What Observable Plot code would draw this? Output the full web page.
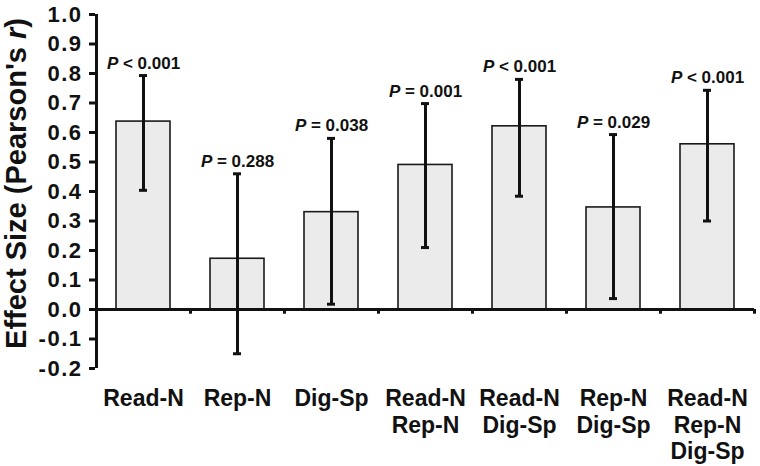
<!DOCTYPE html>
<html>
<head>
<meta charset="utf-8">
<script src="https://cdn.jsdelivr.net/npm/d3@7"></script>
<script src="https://cdn.jsdelivr.net/npm/@observablehq/plot@0.6"></script>
<style>
  html, body { margin: 0; padding: 0; background: #fff; }
</style>
</head>
<body>
<div id="chart"></div>
<script>
const categories = ["Read-N", "Rep-N", "Dig-Sp", "Read-N\nRep-N", "Read-N\nDig-Sp", "Rep-N\nDig-Sp", "Read-N\nRep-N\nDig-Sp"];
const effect = [0.637, 0.172, 0.330, 0.490, 0.621, 0.346, 0.560];
const lower = [0.404, -0.150, 0.018, 0.210, 0.384, 0.037, 0.300];
const upper = [0.793, 0.460, 0.580, 0.698, 0.780, 0.593, 0.743];
const pLabels = ["P < 0.001", "P = 0.288", "P = 0.038", "P = 0.001", "P < 0.001", "P = 0.029", "P < 0.001"];
const yTicks = [-0.2, -0.1, 0.0, 0.1, 0.2, 0.3, 0.4, 0.5, 0.6, 0.7, 0.8, 0.9, 1.0];
const yTitle = "Effect Size (Pearson's r)";

const data = categories.map((c, i) => ({cat: c, r: effect[i], lo: lower[i], hi: upper[i], p: pLabels[i]}));

const font = "'Liberation Sans', Arial, Helvetica, sans-serif";
const fmt = d => d.toFixed(1).replace("-0.0", "0.0");

const chart = Plot.plot({
  width: 760,
  height: 466,
  marginLeft: 95,
  marginRight: 6,
  marginTop: 14,
  marginBottom: 98,
  style: {fontFamily: font, background: "#fff", color: "#111"},
  x: {domain: categories, paddingInner: 0.43, paddingOuter: 0.215, axis: null},
  y: {domain: [-0.2, 1.0], axis: null},
  marks: [
    Plot.barY(data, {x: "cat", y: "r", fill: "#ebebeb", stroke: "#1a1a1a", strokeWidth: 1.6}),
    Plot.ruleY([0], {stroke: "#111", strokeWidth: 3}),
    Plot.ruleX([categories[0]], {x: d => d, y1: -0.2, y2: 1.0, dx: -47, stroke: "#111", strokeWidth: 3}),
    Plot.ruleX(data, {x: "cat", y1: 0, y2: -0.016, dx: 47, stroke: "#111", strokeWidth: 3}),
    Plot.ruleX(data, {x: "cat", y1: "lo", y2: "hi", stroke: "#111", strokeWidth: 3}),
    Plot.tickY(data, {x: "cat", y: "lo", stroke: "#111", strokeWidth: 3, insetLeft: 23, insetRight: 23}),
    Plot.tickY(data, {x: "cat", y: "hi", stroke: "#111", strokeWidth: 3, insetLeft: 23, insetRight: 23}),
    Plot.text(data, {x: "cat", y: "hi", text: "p", lineAnchor: "bottom", dy: -7, fontSize: 17, fontWeight: "bold", fill: "#111"}),
    Plot.axisY({ticks: yTicks, tickFormat: fmt, tickSize: 6, tickPadding: 7, fontSize: 22, fontWeight: "bold", strokeWidth: 3, label: null, color: "#111"}),
    Plot.axisX({tickSize: 0, tickPadding: 19, fontSize: 23, fontWeight: "bold", lineHeight: 1.15, label: null, color: "#111"}),
    Plot.text([yTitle], {frameAnchor: "left", textAnchor: "middle", rotate: -90, dx: -79, dy: -8, fontSize: 29, fontWeight: "bold", fill: "#111"})
  ]
});

const svg = d3.select(chart);
svg.selectAll("text").each(function() {
  const t = this.textContent;
  const sel = d3.select(this);
  if (/^P [<=]/.test(t)) {
    sel.text("");
    sel.append("tspan").attr("font-style", "italic").text("P");
    sel.append("tspan").text(t.slice(1));
  } else if (t === yTitle) {
    sel.text("");
    sel.append("tspan").text("Effect Size (Pearson's ");
    sel.append("tspan").attr("font-style", "italic").text("r");
    sel.append("tspan").text(")");
  } else if (/^[-\u2212]?\d\.\d$/.test(t)) {
    sel.style("font-size", "22px").style("letter-spacing", "1.5px");
  }
});

document.getElementById("chart").appendChild(chart);
</script>
</body>
</html>
